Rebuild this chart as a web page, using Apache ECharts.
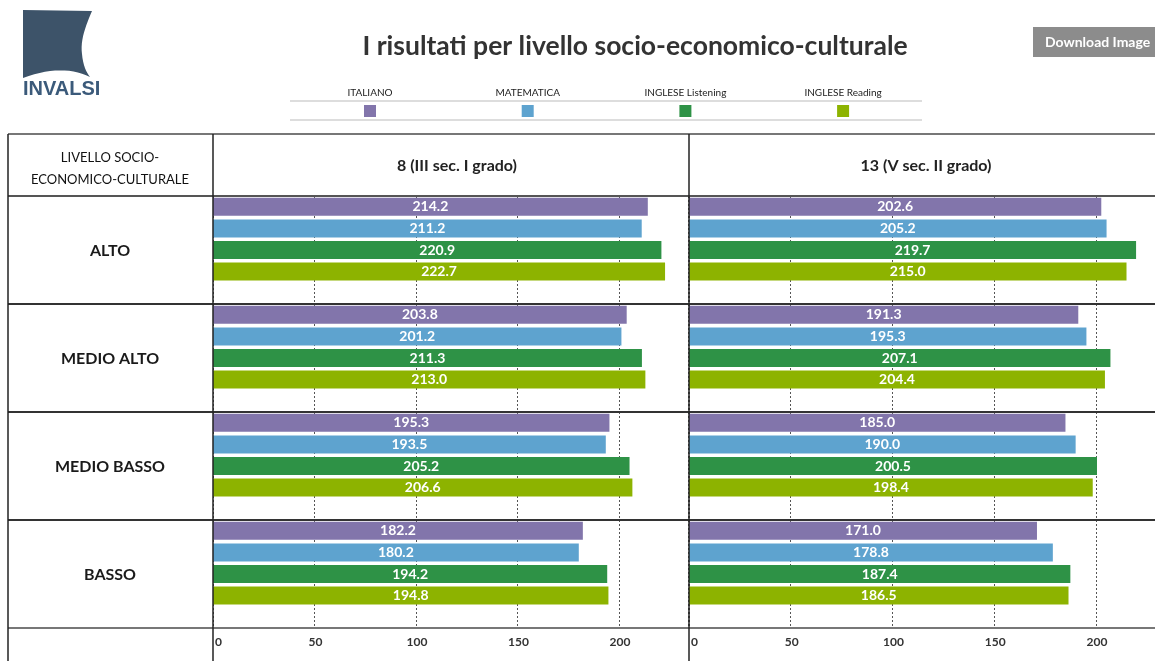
<!DOCTYPE html>
<html><head><meta charset="utf-8">
<script src="https://cdn.jsdelivr.net/npm/echarts@6/dist/echarts.min.js"></script>
<style>html,body{margin:0;padding:0;background:#fff}#c{width:1155px;height:661px}</style>
</head><body><div id="c"></div>
<script>
const subjects = ['ITALIANO','MATEMATICA','INGLESE Listening','INGLESE Reading'];
const levels = ['ALTO','MEDIO ALTO','MEDIO BASSO','BASSO'];
const grades = ['8 (III sec. I grado)','13 (V sec. II grado)'];
const colors = ['#8275ab','#5ea3cf','#2e9246','#8db300'];
// values per level: [ITALIANO, MATEMATICA, INGLESE Listening, INGLESE Reading]
const grade8 = [
  [214.2, 211.2, 220.9, 222.7],
  [203.8, 201.2, 211.3, 213.0],
  [195.3, 193.5, 205.2, 206.6],
  [182.2, 180.2, 194.2, 194.8]
];
const grade13 = [
  [202.6, 205.2, 219.7, 215.0],
  [191.3, 195.3, 207.1, 204.4],
  [185.0, 190.0, 200.5, 198.4],
  [171.0, 178.8, 187.4, 186.5]
];
const tickValues = [0, 50, 100, 150, 200];
const axisMax = [234, 229];

const FONT = 'Lato';
const panels = [grade8, grade13];
const panelLeft = [213, 689];
const panelW = [475, 466];
const headerX = [457, 926];
const rowTop = 196, rowH = 108;

const grid = [], xAxis = [], yAxis = [], series = [];
panels.forEach((pdata, p) => {
  pdata.forEach((vals, r) => {
    const idx = grid.length;
    grid.push({left: panelLeft[p], top: rowTop + r * rowH, width: panelW[p], height: rowH, containLabel: false});
    xAxis.push({
      type: 'value', gridIndex: idx, min: 0, max: axisMax[p], interval: 50,
      axisLine: {show: false}, axisTick: {show: false},
      splitLine: {show: true, lineStyle: {type: [2, 2], color: '#555', width: 1}},
      axisLabel: {
        show: r === levels.length - 1, margin: 8, color: '#333', fontFamily: FONT, fontWeight: 'bold', fontSize: 12,
        alignMinLabel: 'left', showMaxLabel: false, padding: [0, 0, 0, 2],
        formatter: v => tickValues.includes(v) ? String(v) : ''
      }
    });
    yAxis.push({
      type: 'category', gridIndex: idx, inverse: true, data: subjects.concat(['']),
      axisLine: {show: false}, axisTick: {show: false}, axisLabel: {show: false}, splitLine: {show: false}
    });
    series.push({
      type: 'bar', xAxisIndex: idx, yAxisIndex: idx, barWidth: 18,
      data: vals.map((v, i) => ({value: v, itemStyle: {color: colors[i]}})),
      label: {show: true, position: 'inside', color: '#fff', fontFamily: FONT, fontWeight: 'bold', fontSize: 14,
        formatter: d => d.value.toFixed(1)},
      silent: true, animation: false
    });
  });
});

// logo outline sampled from cubic bezier segments
function bez(p0, p1, p2, p3, n) {
  const out = [];
  for (let k = 1; k <= n; k++) {
    const t = k / n, u = 1 - t;
    out.push([
      u*u*u*p0[0] + 3*u*u*t*p1[0] + 3*u*t*t*p2[0] + t*t*t*p3[0],
      u*u*u*p0[1] + 3*u*u*t*p1[1] + 3*u*t*t*p2[1] + t*t*t*p3[1]
    ]);
  }
  return out;
}
const logoPts = [[23, 10], [92, 11]]
  .concat(bez([92, 11], [86, 25], [80, 40], [82, 54], 12))
  .concat(bez([82, 54], [83, 65], [86, 72], [90, 77], 8))
  .concat(bez([90, 77], [72, 68], [50, 68], [23, 78], 14));

const g = [];
g.push({type: 'polygon', shape: {points: logoPts}, style: {fill: '#3d5369'}});
g.push({type: 'text', x: 23, y: 89, style: {text: 'INVALSI', font: 'bold 20px "Liberation Sans"', fill: '#3b5a7a', verticalAlign: 'middle'}});
// title
g.push({type: 'text', x: 635, y: 46, style: {text: 'I risultati per livello socio-economico-culturale', font: 'bold 26.5px ' + FONT, fill: '#333', align: 'center', verticalAlign: 'middle'}});
// download button
g.push({type: 'rect', shape: {x: 1033, y: 27, width: 130, height: 30}, style: {fill: '#8c8c8c'}});
g.push({type: 'text', x: 1045, y: 42, style: {text: 'Download Image', font: 'bold 14px ' + FONT, fill: '#fff', verticalAlign: 'middle'}});
// legend
g.push({type: 'line', shape: {x1: 290, y1: 101, x2: 922, y2: 101}, style: {stroke: '#ddd', lineWidth: 2}});
g.push({type: 'line', shape: {x1: 290, y1: 120, x2: 922, y2: 120}, style: {stroke: '#ddd', lineWidth: 2}});
subjects.forEach((s, i) => {
  const cx = 370 + i * 157.7;
  g.push({type: 'text', x: cx, y: 93, style: {text: s, font: '10px ' + FONT, fill: '#222', align: 'center', verticalAlign: 'middle'}});
  g.push({type: 'rect', shape: {x: cx - 6, y: 105, width: 12, height: 12}, style: {fill: colors[i]}});
});
// table header
g.push({type: 'text', x: 110, y: 158, style: {text: 'LIVELLO SOCIO-', font: '13px ' + FONT, fill: '#111', align: 'center', verticalAlign: 'middle'}});
g.push({type: 'text', x: 110, y: 180, style: {text: 'ECONOMICO-CULTURALE', font: '13px ' + FONT, fill: '#111', align: 'center', verticalAlign: 'middle'}});
grades.forEach((t, p) => {
  g.push({type: 'text', x: headerX[p], y: 166, style: {text: t, font: 'bold 16px ' + FONT, fill: '#222', align: 'center', verticalAlign: 'middle'}});
});
levels.forEach((l, r) => {
  g.push({type: 'text', x: 110, y: rowTop + r * rowH + 55, style: {text: l, font: 'bold 16px ' + FONT, fill: '#1a1a1a', align: 'center', verticalAlign: 'middle'}});
});
// table lines
const lines = [];
lines.push({x1: 8, y1: 134, x2: 1155, y2: 134, c: '#777', w: 2});
lines.push({x1: 8, y1: 196, x2: 1155, y2: 196, c: '#555', w: 2});
for (let r = 1; r < levels.length; r++) lines.push({x1: 8, y1: rowTop + r * rowH, x2: 1155, y2: rowTop + r * rowH, c: '#333', w: 2});
lines.push({x1: 8, y1: 628, x2: 1155, y2: 628, c: '#777', w: 2});
[8, 213, 689].forEach(x => lines.push({x1: x, y1: 134, x2: x, y2: 661, c: '#222', w: 1.5}));
lines.forEach(L => g.push({type: 'line', z: 100, shape: {x1: L.x1, y1: L.y1, x2: L.x2, y2: L.y2}, style: {stroke: L.c, lineWidth: L.w}}));

const chart = echarts.init(document.getElementById('c'), null, {renderer: 'canvas'});
chart.setOption({animation: false, grid, xAxis, yAxis, series, graphic: {elements: g}});
</script>
</body></html>
